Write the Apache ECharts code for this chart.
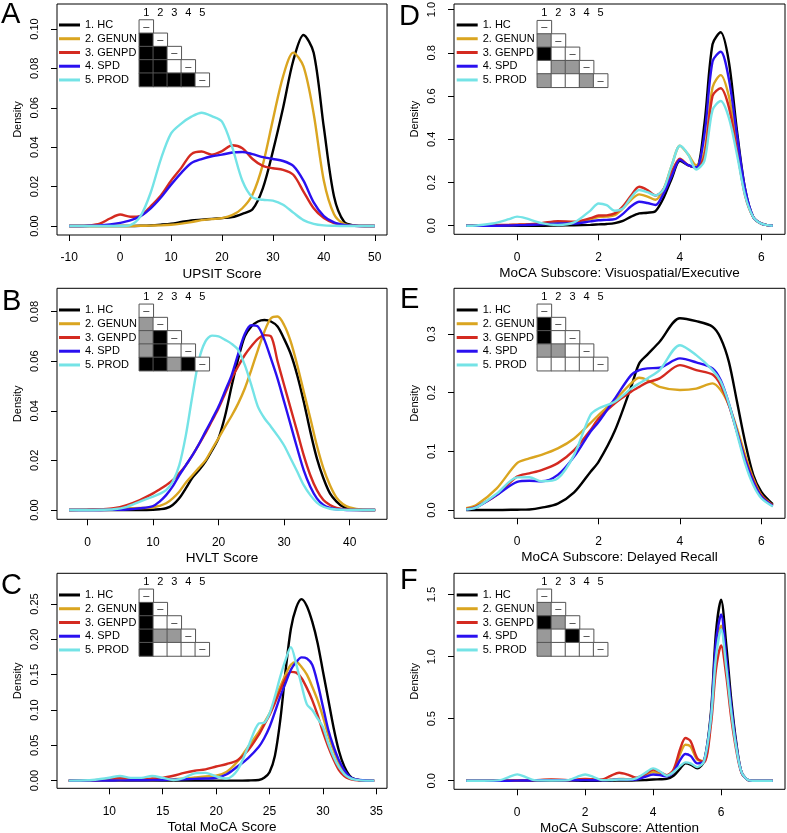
<!DOCTYPE html>
<html><head><meta charset="utf-8">
<script src="https://cdn.jsdelivr.net/npm/echarts@6/dist/echarts.min.js"></script>
<style>html,body{margin:0;padding:0;background:#fff}#c{width:787px;height:833px}</style>
</head><body><div id="c"></div>
<script>
const groups = ['1. HC','2. GENUN','3. GENPD','4. SPD','5. PROD'];
const colors = ['#000000','#DAA520','#D42A20','#2A10F0','#74E3E6'];
const matrixCols = ['1','2','3','4','5'];

// ---- Panel A: UPSIT Score
const xA = [-10,-8,-6,-4,-2,0,2,4,6,8,10,12,14,16,18,20,22,24,26,28,30,32,34,36,38,40,42,44,46,48,50];
const hcA = [0,0,0,0,0,0,0,0.0001,0.0003,0.0007,0.0012,0.002,0.0028,0.0032,0.0036,0.004,0.0045,0.0062,0.0085,0.019,0.038,0.060,0.084,0.097,0.088,0.05,0.015,0.002,0.0003,0,0];
const genunA = [0,0,0,0,0,0,0,0.0001,0.0002,0.0003,0.0006,0.0012,0.002,0.003,0.0035,0.004,0.0055,0.009,0.016,0.031,0.054,0.076,0.088,0.081,0.057,0.023,0.006,0.001,0.0002,0,0];
const genpdA = [0,0,0.0003,0.0012,0.0038,0.0058,0.0047,0.0052,0.010,0.0155,0.023,0.0295,0.0365,0.0378,0.0362,0.038,0.041,0.0395,0.034,0.0305,0.0293,0.0285,0.026,0.0175,0.009,0.004,0.0015,0.0004,0.0001,0,0];
const spdA = [0,0,0.0001,0.0003,0.0008,0.0016,0.0028,0.005,0.009,0.0145,0.021,0.027,0.032,0.034,0.0354,0.0362,0.0373,0.0376,0.0365,0.035,0.034,0.033,0.0305,0.023,0.012,0.005,0.0018,0.0005,0.0001,0,0];
const prodA = [0,0,0,0,0,0,0.0005,0.005,0.017,0.034,0.047,0.052,0.0555,0.0575,0.0558,0.053,0.040,0.023,0.0145,0.0133,0.0129,0.0108,0.0068,0.003,0.0011,0.0003,0.0001,0,0,0,0];
const xTicksA = [-10,0,10,20,30,40,50];
const yTicksA = [0,0.02,0.04,0.06,0.08,0.10];
const sigA = [[2],[2,2],[2,2,0],[2,2,2,2]];

// ---- Panel B: HVLT Score
const xB = [-2.8,0,2,4,6,8,10,11,12,13,14,15,16,17,18,19,20,21,22,23,24,25,26,27,28,29,30,31,32,33,34,35,36,37,38,39,40,42,43.9];
const hcB = [0,0,0,0,0,0,0.0001,0.0003,0.0007,0.002,0.0047,0.0087,0.013,0.016,0.0195,0.024,0.029,0.038,0.050,0.061,0.070,0.074,0.076,0.0766,0.076,0.074,0.069,0.063,0.0544,0.0437,0.0316,0.0208,0.0128,0.0067,0.0034,0.0013,0.0005,0,0];
const genunB = [0,0.0001,0.0002,0.0004,0.0007,0.0008,0.001,0.0017,0.0027,0.0047,0.0074,0.011,0.014,0.017,0.020,0.0245,0.029,0.0336,0.038,0.043,0.049,0.0565,0.0645,0.072,0.0773,0.078,0.0746,0.068,0.0585,0.0477,0.037,0.026,0.0168,0.010,0.005,0.0023,0.001,0.0001,0];
const genpdB = [0,0.0001,0.0003,0.0007,0.002,0.004,0.0067,0.0083,0.010,0.012,0.0148,0.018,0.022,0.0265,0.031,0.036,0.041,0.047,0.053,0.058,0.0625,0.066,0.069,0.0705,0.070,0.060,0.0504,0.041,0.0316,0.022,0.014,0.008,0.004,0.002,0.0008,0.0003,0.0001,0,0];
const spdB = [0,0,0,0.0001,0.0002,0.0007,0.0016,0.0034,0.006,0.0095,0.014,0.018,0.022,0.0265,0.0316,0.0365,0.0417,0.048,0.0544,0.063,0.071,0.0745,0.074,0.0686,0.061,0.053,0.0437,0.0343,0.0249,0.016,0.0094,0.0047,0.002,0.0008,0.0003,0.0001,0,0,0];
const prodB = [0,0,0.0001,0.0003,0.0013,0.0034,0.0054,0.0065,0.008,0.0114,0.018,0.030,0.046,0.0605,0.068,0.0703,0.070,0.0686,0.067,0.0645,0.0585,0.0504,0.0417,0.037,0.0336,0.030,0.026,0.0208,0.0155,0.010,0.006,0.003,0.0013,0.0005,0.0002,0.0001,0,0,0];
const xTicksB = [0,10,20,30,40];
const yTicksB = [0,0.02,0.04,0.06,0.08];
const sigB = [[1],[1,2],[1,2,0],[2,2,1,2]];

// ---- Panel C: Total MoCA Score
const xC = [6.2,8,9,10,11,12,13,14,15,16,17,18,19,20,21,22,23,24,24.5,25,25.5,26,26.5,27,27.5,28,28.5,29,29.5,30,30.5,31,31.5,32,32.5,33,34,34.8];
const hcC = [0,0,0,0,0,0,0,0,0,0,0,0,0,0,0,0,0.0003,0.001,0.004,0.012,0.035,0.085,0.155,0.215,0.245,0.257,0.247,0.225,0.195,0.155,0.115,0.075,0.042,0.02,0.007,0.002,0,0];
const genunC = [0,0,0.0002,0.0004,0.0006,0.0008,0.001,0.001,0.0012,0.002,0.003,0.0045,0.006,0.007,0.0127,0.027,0.048,0.069,0.082,0.095,0.114,0.133,0.150,0.164,0.168,0.161,0.150,0.133,0.114,0.0906,0.0646,0.043,0.0245,0.0104,0.004,0.0014,0.0001,0];
const genpdC = [0,0.0003,0.001,0.003,0.0042,0.003,0.0024,0.003,0.004,0.007,0.011,0.014,0.016,0.020,0.0236,0.029,0.043,0.065,0.079,0.093,0.11,0.128,0.145,0.154,0.153,0.145,0.131,0.114,0.093,0.069,0.048,0.030,0.015,0.0066,0.0024,0.0008,0,0];
const spdC = [0,0,0,0.0002,0.0004,0.0005,0.0006,0.0008,0.001,0.0015,0.002,0.0025,0.003,0.004,0.009,0.02,0.032,0.048,0.06,0.076,0.097,0.119,0.138,0.157,0.168,0.1745,0.173,0.164,0.138,0.105,0.072,0.048,0.029,0.015,0.0057,0.002,0.0002,0];
const prodC = [0,0.0005,0.002,0.0042,0.0066,0.004,0.004,0.0066,0.004,0.001,0.004,0.0104,0.011,0.006,0.003,0.015,0.048,0.081,0.082,0.095,0.119,0.147,0.171,0.189,0.165,0.135,0.108,0.1,0.088,0.076,0.053,0.034,0.019,0.0094,0.004,0.0014,0,0];
const xTicksC = [10,15,20,25,30,35];
const yTicksC = [0,0.05,0.10,0.15,0.20,0.25];
const sigC = [[2],[2,0],[2,1,1],[2,0,0,0]];

// ---- Panel D: MoCA Subscore: Visuospatial/Executive
const xD = [-1.25,-1,-0.6,-0.2,0,0.2,0.6,1,1.4,1.8,2,2.2,2.4,2.6,2.8,3,3.2,3.4,3.6,3.8,4,4.2,4.4,4.6,4.8,5,5.2,5.4,5.6,5.8,6,6.28];
const hcD = [0,0,0,0,0,0,0,0.001,0.002,0.004,0.006,0.008,0.012,0.022,0.042,0.057,0.06,0.068,0.13,0.22,0.30,0.28,0.27,0.47,0.84,0.895,0.76,0.44,0.17,0.04,0.01,0];
const genunD = [0,0.001,0.002,0.003,0.004,0.005,0.01,0.015,0.015,0.03,0.04,0.042,0.049,0.08,0.12,0.145,0.135,0.12,0.17,0.28,0.37,0.33,0.28,0.34,0.64,0.697,0.6,0.38,0.15,0.04,0.01,0];
const genpdD = [0,0.001,0.002,0.004,0.005,0.006,0.012,0.021,0.018,0.035,0.047,0.048,0.057,0.09,0.14,0.18,0.165,0.14,0.17,0.25,0.31,0.28,0.27,0.32,0.60,0.636,0.55,0.35,0.14,0.04,0.01,0];
const spdD = [0,0,0,0.001,0.002,0.003,0.006,0.01,0.01,0.02,0.025,0.027,0.03,0.055,0.09,0.111,0.105,0.096,0.15,0.23,0.305,0.28,0.27,0.42,0.76,0.805,0.68,0.42,0.17,0.04,0.01,0];
const prodD = [0,0.001,0.01,0.03,0.042,0.035,0.012,0.003,0.015,0.07,0.103,0.095,0.069,0.08,0.13,0.165,0.155,0.14,0.17,0.28,0.37,0.33,0.26,0.30,0.535,0.577,0.5,0.33,0.14,0.04,0.01,0];
const xTicksD = [0,2,4,6];
const yTicksD = [0,0.2,0.4,0.6,0.8,1.0];
const sigD = [[1],[2,0],[0,1,1],[1,0,0,1]];

// ---- Panel E: MoCA Subscore: Delayed Recall
const xE = [-1.25,-1,-0.5,0,0.3,0.6,1,1.4,1.8,2,2.4,2.8,3,3.2,3.5,4,4.4,4.8,5,5.2,5.4,5.6,5.8,6,6.28];
const hcE = [0,0,0,0.0006,0.001,0.004,0.011,0.03,0.065,0.082,0.135,0.21,0.25,0.265,0.287,0.327,0.322,0.3125,0.293,0.253,0.185,0.116,0.06,0.031,0.01];
const genunE = [0.003,0.0085,0.037,0.08,0.088,0.094,0.105,0.122,0.148,0.162,0.1875,0.216,0.2256,0.2216,0.21,0.2045,0.207,0.216,0.2045,0.179,0.139,0.094,0.054,0.0256,0.008];
const genpdE = [0.002,0.006,0.0256,0.057,0.0625,0.068,0.08,0.102,0.136,0.156,0.182,0.2017,0.21,0.2176,0.2244,0.247,0.2386,0.231,0.213,0.179,0.1335,0.088,0.051,0.0244,0.008];
const spdE = [0.001,0.0045,0.0256,0.048,0.05,0.049,0.06,0.091,0.1335,0.15,0.19,0.23,0.2386,0.2415,0.2426,0.2585,0.2517,0.2415,0.2216,0.182,0.1335,0.085,0.048,0.0227,0.007];
const prodE = [0.001,0.0045,0.028,0.0557,0.056,0.049,0.054,0.094,0.162,0.173,0.1847,0.207,0.216,0.2244,0.2386,0.281,0.264,0.2386,0.219,0.182,0.1307,0.0795,0.0426,0.02,0.006];
const xTicksE = [0,2,4,6];
const yTicksE = [0,0.1,0.2,0.3];
const sigE = [[2],[2,0],[1,1,0],[0,0,0,0]];

// ---- Panel F: MoCA Subscore: Attention
const xF = [-1.5,-1,-0.5,-0.25,0,0.25,0.5,1,1.5,1.75,2,2.25,2.5,2.75,3,3.25,3.5,3.75,4,4.2,4.4,4.6,4.8,4.95,5.1,5.3,5.5,5.7,5.85,6,6.15,6.3,6.45,6.6,6.8,7,7.52];
const hcF = [0,0,0,0,0,0,0,0,0,0,0,0,0,0,0.001,0.002,0.003,0.005,0.01,0.012,0.015,0.04,0.1,0.14,0.13,0.10,0.16,0.55,1.2,1.46,1.1,0.65,0.3,0.07,0.005,0,0];
const genunF = [0,0,0,0,0.002,0.003,0.004,0.006,0.003,0.005,0.01,0.008,0.005,0.008,0.015,0.012,0.015,0.04,0.07,0.055,0.04,0.08,0.22,0.29,0.275,0.17,0.16,0.5,1.05,1.25,0.95,0.57,0.27,0.07,0.005,0,0];
const genpdF = [0,0,0,0,0.003,0.004,0.005,0.01,0.005,0.01,0.015,0.012,0.01,0.04,0.065,0.05,0.025,0.05,0.09,0.07,0.045,0.09,0.26,0.345,0.32,0.18,0.15,0.45,0.9,1.09,0.85,0.5,0.24,0.065,0.005,0,0];
const spdF = [0,0,0,0,0.001,0.002,0.003,0.005,0.003,0.004,0.005,0.004,0.003,0.006,0.01,0.008,0.01,0.03,0.05,0.045,0.035,0.07,0.17,0.215,0.2,0.14,0.16,0.52,1.12,1.34,1.0,0.6,0.28,0.07,0.005,0,0];
const prodF = [0,0,0.005,0.03,0.051,0.03,0.005,0.002,0.005,0.03,0.05,0.03,0.005,0.005,0.01,0.01,0.02,0.06,0.1,0.075,0.04,0.07,0.12,0.148,0.14,0.11,0.16,0.5,1.0,1.22,0.92,0.55,0.26,0.07,0.005,0,0];
const xTicksF = [0,2,4,6];
const yTicksF = [0,0.5,1.0,1.5];
const sigF = [[1],[2,1],[1,0,2],[1,0,0,0]];

// ---------- building the chart ----------
const FONT = 'Liberation Sans, Arial, Helvetica, sans-serif';
const panels = [
  {L:'A', x:xA, ys:[hcA,genunA,genpdA,spdA,prodA], xr:[-12.4,52.4], yr:[-0.00457,0.1127], xt:xTicksA, yt:yTicksA, dec:2, name:'UPSIT Score', sig:sigA,
   box:[57,4,330,231], leg:[59,18.1], mat:[139.3,20,70,66.5], letter:[1,15]},
  {L:'B', x:xB, ys:[hcB,genunB,genpdB,spdB,prodB], xr:[-4.65,45.7], yr:[-0.00375,0.0894], xt:xTicksB, yt:yTicksB, dec:2, name:'HVLT Score', sig:sigB,
   box:[57,288.3,330,231], leg:[59,303.1], mat:[139.3,304.3,70,66.4], letter:[2,301.5]},
  {L:'C', x:xC, ys:[hcC,genunC,genpdC,spdC,prodC], xr:[5.1,36.0], yr:[-0.0108,0.2935], xt:xTicksC, yt:yTicksC, dec:2, name:'Total MoCA Score', sig:sigC,
   box:[57,573.3,330,215], leg:[59,588.1], mat:[139.3,589.3,70,66.7], letter:[1,586]},
  {L:'D', x:xD, ys:[hcD,genunD,genpdD,spdD,prodD], xr:[-1.55,6.58], yr:[-0.0398,1.026], xt:xTicksD, yt:yTicksD, dec:1, name:'MoCA Subscore: Visuospatial/Executive', sig:sigD,
   box:[454,4,331,230.3], leg:[456.7,18.1], mat:[537.3,20.7,70.4,66.6], letter:[399,16.5]},
  {L:'E', x:xE, ys:[hcE,genunE,genpdE,spdE,prodE], xr:[-1.55,6.58], yr:[-0.0141,0.378], xt:xTicksE, yt:yTicksE, dec:1, name:'MoCA Subscore: Delayed Recall', sig:sigE,
   box:[454,288.3,331,230], leg:[456.7,303.1], mat:[537.3,304.3,70.4,66.4], letter:[400,300]},
  {L:'F', x:xF, ys:[hcF,genunF,genpdF,spdF,prodF], xr:[-1.86,7.88], yr:[-0.069,1.672], xt:xTicksF, yt:yTicksF, dec:1, name:'MoCA Subscore: Attention', sig:sigF,
   box:[454,573.3,331,216], leg:[456.7,588.1], mat:[537.3,589.3,70.4,66.7], letter:[400,581]}
];
const fills = ['#ffffff','#999999','#000000'];

const grid = [], xAxis = [], yAxis = [], series = [], legend = [], graphic = [];
panels.forEach((p, i) => {
  const gi = grid.length;
  grid.push({left:p.box[0], top:p.box[1], width:p.box[2], height:p.box[3], show:true, borderColor:'#000', borderWidth:1,
             backgroundColor:'transparent', containLabel:false, outerBoundsMode:'none'});
  xAxis.push({type:'value', gridIndex:gi, min:p.xr[0], max:p.xr[1], position:'bottom',
    axisLine:{show:false, onZero:false}, splitLine:{show:false},
    axisTick:{show:true, customValues:p.xt, length:6, lineStyle:{color:'#000', width:1}},
    axisLabel:{customValues:p.xt, margin:17, fontSize:12, color:'#000', fontFamily:FONT, formatter:v=>String(v)},
    name:p.name, nameLocation:'middle', nameGap:32, nameTextStyle:{fontSize:13.5, color:'#000', fontFamily:FONT}});
  yAxis.push({type:'value', gridIndex:gi, min:p.yr[0], max:p.yr[1], position:'left',
    axisLine:{show:false, onZero:false}, splitLine:{show:false},
    axisTick:{show:true, customValues:p.yt, length:6, lineStyle:{color:'#000', width:1}},
    axisLabel:{customValues:p.yt, rotate:90, margin:17, fontSize:11, color:'#000', fontFamily:FONT, formatter:v=>Number(v).toFixed(p.dec)},
    name:'Density', nameLocation:'middle', nameGap:34, nameTextStyle:{fontSize:11, color:'#000', fontFamily:FONT}});
  p.ys.forEach((ys, k) => {
    series.push({type:'line', name:groups[k], xAxisIndex:gi, yAxisIndex:gi,
      data:p.x.map((xv, j) => [xv, ys[j]]), showSymbol:false, symbol:'none', smooth:0.3, silent:true,
      lineStyle:{color:colors[k], width:2.4}, itemStyle:{color:colors[k]}, z:2+k});
  });
  // significance matrix
  const mi = grid.length;
  grid.push({left:p.mat[0], top:p.mat[1], width:p.mat[2], height:p.mat[3], show:false, containLabel:false, outerBoundsMode:'none'});
  xAxis.push({type:'category', gridIndex:mi, data:matrixCols, position:'top', axisLine:{show:false}, axisTick:{show:false},
    splitLine:{show:false}, axisLabel:{margin:2, fontSize:11, color:'#000', fontFamily:FONT}});
  yAxis.push({type:'category', gridIndex:mi, data:matrixCols, inverse:true, show:false});
  const cells = [];
  for (let r = 0; r < 5; r++) {
    for (let c = 0; c <= r; c++) {
      if (c === r) {
        cells.push({value:[c, r, -1], itemStyle:{color:'#ffffff'}, label:{show:true, formatter:'\u2013', fontSize:11, color:'#222', fontFamily:FONT}});
      } else {
        const code = p.sig[r-1][c];
        cells.push({value:[c, r, code], itemStyle:{color:fills[code]}});
      }
    }
  }
  series.push({type:'heatmap', xAxisIndex:mi, yAxisIndex:mi, data:cells, silent:true, z:10,
    itemStyle:{borderColor:'#555', borderWidth:1}, label:{show:false}, emphasis:{disabled:true}});
  legend.push({orient:'vertical', left:p.leg[0], top:p.leg[1], padding:0, itemGap:0, itemWidth:21, itemHeight:3, icon:'rect',
    selectedMode:false, data:groups, textStyle:{fontSize:11, lineHeight:13.75, color:'#000', fontFamily:FONT}});
  graphic.push({type:'text', x:p.letter[0], y:p.letter[1], silent:true,
    style:{text:p.L, fontSize:29, fill:'#000', fontFamily:FONT, textAlign:'left', textVerticalAlign:'middle', verticalAlign:'middle'}});
});

const chart = echarts.init(document.getElementById('c'), null, {renderer:'canvas'});
chart.setOption({backgroundColor:'#ffffff', animation:false, grid, xAxis, yAxis, series, legend, graphic, tooltip:{show:false}});
</script></body></html>
